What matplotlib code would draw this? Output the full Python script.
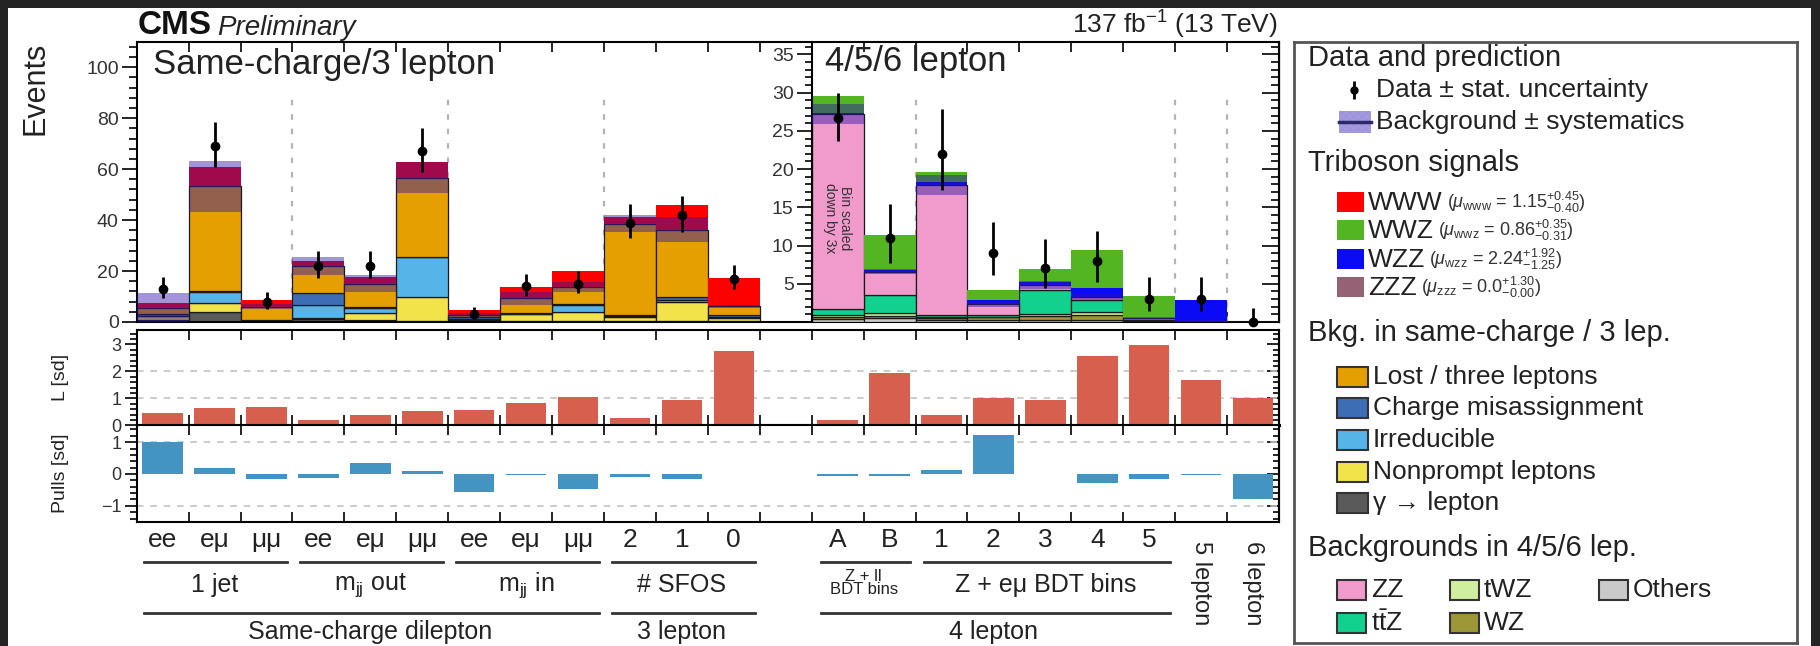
import numpy as np
import matplotlib
matplotlib.use("Agg")
import matplotlib.pyplot as plt
from matplotlib.patches import Rectangle
from matplotlib.transforms import blended_transform_factory
from matplotlib.ticker import MultipleLocator

plt.rcParams["font.family"] = ["Liberation Sans", "DejaVu Sans"]
plt.rcParams["mathtext.fontset"] = "custom"
plt.rcParams["mathtext.rm"] = "Liberation Sans"
plt.rcParams["mathtext.it"] = "Liberation Sans:italic"
plt.rcParams["mathtext.bf"] = "Liberation Sans:bold"
plt.rcParams["hatch.linewidth"] = 0.8

# ---- same-charge / 3 lepton bins (left scale) ----
sc_x = np.arange(12)
gamma_l     = [0.8, 4.0, 0.3, 1.0, 0.8, 0.3, 0.6, 0.3, 0.3, 0.5, 0.3, 0.3]
nonprompt_l = [1.5, 3.3, 0.3, 0.5, 2.6, 9.6, 0.3, 2.7, 3.7, 1.6, 7.7, 1.1]
irred_l     = [0.2, 4.6, 0.2, 5.2, 2.0, 15.7, 0.3, 0.3, 2.7, 0.2, 0.6, 0.7]
chmis_l     = [0.6, 0.3, 0.0, 4.5, 0.6, 0.0, 0.6, 0.3, 0.3, 0.3, 1.3, 0.6]
lost_l      = [2.3, 41.0, 5.2, 10.8, 9.1, 31.1, 0.8, 5.7, 6.8, 36.0, 26.3, 3.5]
www_l       = [1.9, 7.6, 2.6, 1.8, 2.7, 6.1, 2.0, 4.3, 6.3, 2.7, 9.6, 10.9]
syst_l      = [5.8, 10.0, 1.0, 3.6, 3.5, 5.9, 0.9, 2.6, 1.9, 3.2, 5.0, 0.6]
data_l      = [13, 69, 8, 22, 22, 67, 3, 14, 15, 39, 42, 17]
data_l_up   = [4.7, 9.3, 3.9, 5.8, 5.8, 9.2, 2.9, 4.9, 5.0, 7.3, 7.5, 5.2]
data_l_dn   = [3.6, 8.3, 2.8, 4.7, 4.7, 8.2, 1.6, 3.7, 3.8, 6.2, 6.5, 4.1]

# ---- 4/5/6 lepton bins (right scale, bin 12 is a spacer) ----
ml_x = np.arange(13, 22)
others_r = [0.4, 0.5, 0.3, 0.3, 0.3, 0.3, 0.1, 0.05, 0.0]
wz_r     = [0.3, 0.3, 0.2, 0.3, 0.5, 0.6, 0.1, 0.0, 0.0]
twz_r    = [0.2, 0.4, 0.1, 0.1, 0.3, 0.4, 0.0, 0.0, 0.0]
ttz_r    = [0.8, 2.3, 0.3, 0.2, 3.1, 1.6, 0.0, 0.0, 0.0]
zz_r     = [25.5, 3.1, 17.0, 1.5, 0.6, 0.4, 0.3, 0.05, 0.0]
wzz_r    = [0.1, 0.2, 0.4, 0.5, 0.4, 1.1, 0.0, 2.8, 0.0]
wwz_r    = [2.2, 4.6, 1.3, 1.3, 1.7, 5.0, 2.9, 0.0, 0.0]
syst_r   = [1.3, 0.3, 1.3, 0.4, 0.5, 0.4, 0.2, 0.1, 0.0]
data_r    = [26.7, 11, 22, 9, 7, 8, 3, 3, 0]
data_r_up = [3.3, 4.4, 5.8, 4.1, 3.8, 3.9, 2.9, 2.9, 1.8]
data_r_dn = [3.0, 3.3, 4.7, 2.9, 2.6, 2.8, 1.6, 1.6, 0.0]

# ---- likelihood scan and pulls, all bins except the spacer ----
ratio_x = list(range(12)) + list(range(13, 22))
lik_sd  = [0.47, 0.63, 0.69, 0.20, 0.38, 0.53, 0.57, 0.84, 1.04, 0.28, 0.93, 2.76,
           0.20, 1.93, 0.38, 1.00, 0.94, 2.57, 2.96, 1.68, 1.00]
pull_sd = [1.02, 0.18, -0.17, -0.14, 0.34, 0.10, -0.56, -0.04, -0.48, -0.08, -0.16, -0.01,
           -0.06, -0.07, 0.13, 1.23, 0.01, -0.29, -0.17, -0.02, -0.80]

# ---- bin labels ----
sc_labels = ["ee", "eμ", "μμ"] * 3 + ["2", "1", "0"]
ml_labels = ["A", "B", "1", "2", "3", "4", "5"]
sc_groups = ["1 jet", r"m$_{\rm jj}$ out", r"m$_{\rm jj}$ in", "# SFOS"]

signals = ["WWW", "WWZ", "WZZ", "ZZZ"]
mu_val = ["1.15", "0.86", "2.24", "0.0"]
mu_up = ["+0.45", "+0.35", "+1.92", "+1.30"]
mu_dn = ["-0.40", "-0.31", "-1.25", "-0.00"]

c_gamma, c_np, c_irr, c_chm, c_lost = "#5a5a5a", "#F2E34A", "#56B4E9", "#3D6DB4", "#E69F00"
c_www, c_wwz, c_wzz, c_zzz = "#FF0000", "#53B521", "#0A0AF5", "#946274"
c_zz, c_ttz, c_twz, c_wz, c_oth = "#F09BCB", "#12D08E", "#CFEE9E", "#9E9738", "#CACACA"
band_col = (45 / 255, 20 / 255, 170 / 255, 0.45)
sep_kw = dict(colors="#b4b4b4", linewidth=1.6, linestyles=(0, (2.5, 4)), zorder=1)
ink = "#222222"

W, H = 1820, 646
fig = plt.figure(figsize=(W / 100, H / 100), dpi=100, facecolor="#242424")
fig.add_artist(Rectangle((8 / W, 0), (1811 - 8) / W, 638 / H, transform=fig.transFigure,
                         facecolor="white", edgecolor="none", zorder=-10))


def fy(ypx):
    return 1 - ypx / H


x0, x1 = 136.7, 1279.0
ax_top = fig.add_axes([x0 / W, fy(322), (x1 - x0) / W, (322 - 41.7) / H])
ax_r = fig.add_axes([811.7 / W, fy(322), (x1 - 811.7) / W, (322 - 41.7) / H])
ax_L = fig.add_axes([x0 / W, fy(425.3), (x1 - x0) / W, (425.3 - 330) / H])
ax_P = fig.add_axes([x0 / W, fy(521.7), (x1 - x0) / W, (521.7 - 425.3) / H])
ax_r.patch.set_alpha(0)


def draw_stack(ax, x, layers, colors, edged):
    bottom = np.zeros(len(x))
    for vals, col in zip(layers, colors):
        vals = np.asarray(vals, float)
        ax.bar(x + 0.5, vals, width=1.0, bottom=bottom, color=col,
               edgecolor="#1a1a1a" if edged else "none",
               linewidth=0.9 if edged else 0, zorder=2)
        bottom = bottom + vals
    return bottom


def draw_band(ax, x, centre, half):
    half = np.asarray(half, float)
    lo = np.clip(centre - half, 0, None)
    ax.bar(x + 0.5, centre + half - lo, width=1.0, bottom=lo, color=band_col,
           linewidth=0, zorder=3)


# left part: backgrounds, uncertainty band, WWW on top
bkg_l = draw_stack(ax_top, sc_x, [gamma_l, nonprompt_l, irred_l, chmis_l, lost_l],
                   [c_gamma, c_np, c_irr, c_chm, c_lost], True)
draw_stack(ax_top, sc_x, [list(bkg_l), www_l], ["none", c_www], False)
draw_band(ax_top, sc_x, bkg_l, syst_l)
ax_top.errorbar(sc_x + 0.5, data_l, yerr=[data_l_dn, data_l_up], fmt="o", color="k",
                ms=6, elinewidth=2, capsize=0, zorder=5)
ax_top.vlines([3, 6, 9], 0, 90, **sep_kw)

# right part
bkg_r = draw_stack(ax_r, ml_x, [others_r, wz_r, twz_r, ttz_r, zz_r],
                   [c_oth, c_wz, c_twz, c_ttz, c_zz], True)
draw_stack(ax_r, ml_x, [list(bkg_r), wzz_r, wwz_r], ["none", c_wzz, c_wwz], False)
draw_band(ax_r, ml_x, bkg_r, syst_r)
ax_r.errorbar(ml_x + 0.5, data_r, yerr=[data_r_dn, data_r_up], fmt="o", color="k",
              ms=6, elinewidth=2, capsize=0, zorder=5, clip_on=False)
ax_r.vlines([15, 20, 21], 0, 30, **sep_kw)
ax_r.text(13.5, 13.6, "Bin scaled\ndown by 3x", rotation=270, ha="center", va="center",
          fontsize=10, color="#333333", linespacing=1.1, zorder=4)

ax_top.set_xlim(0, 22)
ax_top.set_ylim(0, 110)
ax_r.set_xlim(13, 22)
ax_r.set_ylim(0, 110 / 3)

ax_top.text(0.0143, 0.917, "Same-charge/3 lepton", transform=ax_top.transAxes,
            fontsize=25, va="center", color=ink)
ax_r.text(0.0285, 0.928, "4/5/6 lepton", transform=ax_r.transAxes,
          fontsize=25, va="center", color=ink)

# axis cosmetics
for ax in (ax_top, ax_L, ax_P):
    ax.set_xlim(0, 22)
    ax.set_xticks(range(1, 22))
    ax.tick_params(axis="x", direction="in", top=True, bottom=True, length=7, width=1.2,
                   labelbottom=False)
    for sp in ax.spines.values():
        sp.set_linewidth(1.5)

ax_top.set_yticks(range(0, 101, 20))
ax_top.yaxis.set_minor_locator(MultipleLocator(4))
ax_top.tick_params(axis="y", which="both", direction="out", right=False, labelsize=14,
                   pad=2, width=1.2, labelcolor="#333333")
ax_top.tick_params(axis="y", which="major", length=11)
ax_top.tick_params(axis="y", which="minor", length=5.5)

ax_r.set_xticks([])
ax_r.spines["top"].set_visible(False)
ax_r.spines["bottom"].set_visible(False)
ax_r.spines["left"].set_linewidth(1.5)
ax_r.set_yticks(range(5, 36, 5))
ax_r.yaxis.set_minor_locator(MultipleLocator(1))
ax_r.tick_params(axis="y", which="both", direction="out", labelsize=14, pad=2, width=1.2,
                 labelcolor="#333333")
ax_r.tick_params(axis="y", which="major", length=11)
ax_r.tick_params(axis="y", which="minor", length=5)


def inner_right(ax, major, minor, lmaj):
    sec = ax.secondary_yaxis("right")
    sec.set_yticks(major)
    sec.set_yticklabels([])
    sec.yaxis.set_minor_locator(MultipleLocator(minor))
    sec.tick_params(which="both", direction="in", width=1.2)
    sec.tick_params(which="major", length=lmaj)
    sec.tick_params(which="minor", length=lmaj / 2)
    sec.spines["right"].set_linewidth(1.5)


inner_right(ax_r, range(0, 36, 5), 1, 12)

# likelihood panel
ax_L.bar(np.array(ratio_x) + 0.5, lik_sd, width=0.78, color="#D6604D", zorder=3)
ax_L.set_ylim(0, 3.53)
ax_L.hlines([1, 2], 0, 22, colors="#c4c4c4", linewidth=1.2, linestyles=(0, (4, 4)), zorder=1)
ax_L.set_yticks([0, 1, 2, 3])
ax_L.set_ylabel("L [sd]", fontsize=14, color=ink)
ax_L.yaxis.set_label_coords(-0.059, 0.5)
ax_L.spines["bottom"].set_linewidth(2.2)

# pulls panel
ax_P.bar(np.array(ratio_x) + 0.5, pull_sd, width=0.78, color="#4393C3", zorder=3)
ax_P.set_ylim(-1.5, 1.53)
ax_P.hlines([-1, 1], 0, 22, colors="#c4c4c4", linewidth=1.2, linestyles=(0, (4, 4)), zorder=1)
ax_P.set_yticks([-1, 0, 1])
ax_P.set_ylabel("Pulls [sd]", fontsize=14, color=ink)
ax_P.yaxis.set_label_coords(-0.059, 0.5)

for ax, rng in ((ax_L, [0, 1, 2, 3]), (ax_P, [-1, 0, 1])):
    ax.yaxis.set_minor_locator(MultipleLocator(0.2))
    ax.tick_params(axis="y", which="both", direction="out", right=False, labelsize=13,
                   pad=2, width=1.2, labelcolor="#333333")
    ax.tick_params(axis="y", which="major", length=9)
    ax.tick_params(axis="y", which="minor", length=5)
    inner_right(ax, rng, 0.2, 9)

# header texts
t_cms = fig.text(137.7 / W, fy(34), "CMS", fontsize=24, fontweight="bold", color="#111111")
fig.add_artist(matplotlib.text.Annotation(
    "Preliminary", xy=(1, 0), xycoords=t_cms, xytext=(4, 0), textcoords="offset points",
    fontsize=20, style="italic", color=ink, va="bottom"))
fig.text(1278 / W, fy(34), r"137 fb$^{-1}$ (13 TeV)", fontsize=19, ha="right", color=ink)
fig.text(36 / W, fy(42), "Events", rotation=90, ha="center", va="top", fontsize=22,
         color=ink)

# bin labels under the pulls panel
tr = blended_transform_factory(ax_P.transData, fig.transFigure)
lab_kw = dict(transform=tr, ha="center", va="center", color=ink, clip_on=False)
line_kw = dict(transform=tr, color="#333333", lw=2, clip_on=False)

for xi, lab in zip(sc_x, sc_labels):
    ax_P.text(xi + 0.5, fy(540), lab, fontsize=19, **lab_kw)
for xi, lab in zip(ml_x[:7], ml_labels):
    ax_P.text(xi + 0.5, fy(540), lab, fontsize=19, **lab_kw)
for xi, lab in zip(ml_x[7:], ["5 lepton", "6 lepton"]):
    ax_P.text(xi + 0.5, fy(583), lab, fontsize=17, rotation=270, **lab_kw)

for k, grp in enumerate(sc_groups):
    ax_P.plot([3 * k + 0.15, 3 * k + 2.9], [fy(561.7)] * 2, **line_kw)
    ax_P.text(3 * k + 1.5, fy(585), grp, fontsize=18, **lab_kw)
ax_P.plot([13.18, 14.9], [fy(561.7)] * 2, **line_kw)
ax_P.plot([15.16, 19.9], [fy(561.7)] * 2, **line_kw)
ax_P.text(14.0, fy(583), "Z + ll\nBDT bins", fontsize=12, linespacing=0.9, **lab_kw)
ax_P.text(17.5, fy(585), "Z + eμ BDT bins", fontsize=18, **lab_kw)

ax_P.plot([0.15, 8.9], [fy(613)] * 2, **line_kw)
ax_P.plot([9.15, 11.9], [fy(613)] * 2, **line_kw)
ax_P.plot([13.18, 19.9], [fy(613)] * 2, **line_kw)
ax_P.text(4.5, fy(631.7), "Same-charge dilepton", fontsize=18, **lab_kw)
ax_P.text(10.5, fy(631.7), "3 lepton", fontsize=18, **lab_kw)
ax_P.text(16.5, fy(631.7), "4 lepton", fontsize=18, **lab_kw)

# legend box
ax_leg = fig.add_axes([1293.8 / W, fy(643), (1797 - 1293.8) / W, (643 - 41.7) / H])
ax_leg.set_xlim(0, 503.2)
ax_leg.set_ylim(601.3, 0)
ax_leg.set_xticks([])
ax_leg.set_yticks([])
for sp in ax_leg.spines.values():
    sp.set_color("#555555")
    sp.set_linewidth(2)

hdr_kw = dict(fontsize=21, va="center", color=ink)
item_fs = 19
ax_leg.text(13.7, 16.6, "Data and prediction", **hdr_kw)
ax_leg.errorbar([60], [48.3], yerr=[[9], [9]], fmt="o", color="k", ms=5, elinewidth=2)
ax_leg.text(82.6, 48.3, "Data ± stat. uncertainty", fontsize=item_fs, va="center", color=ink)
ax_leg.add_patch(Rectangle((44.7, 69), 32.5, 22, facecolor=band_col, edgecolor="#a49ce6",
                           hatch="xxxx", linewidth=0))
ax_leg.plot([44.7, 77.2], [80, 80], color="#2a2a6a", lw=2.5)
ax_leg.text(82.6, 80, "Background ± systematics", fontsize=item_fs, va="center", color=ink)

ax_leg.text(13.7, 121.6, "Triboson signals", **hdr_kw)
for k, (name, col) in enumerate(zip(signals, [c_www, c_wwz, c_wzz, c_zzz])):
    yc = 160 + 28.4 * k
    ax_leg.add_patch(Rectangle((43, yc - 10), 27, 20, facecolor=col, edgecolor="none"))
    t = ax_leg.text(74, yc + 8, name, fontsize=item_fs, va="baseline", color=ink)
    ax_leg.annotate(rf"($\mu_{{\rm {name.lower()}}}$ = {mu_val[k]}$^{{{mu_up[k]}}}_{{{mu_dn[k]}}}$)",
                    xy=(1, 0), xycoords=t, xytext=(3, 0), textcoords="offset points",
                    fontsize=13, va="bottom", color="#333333")

ax_leg.text(13.7, 291.6, "Bkg. in same-charge / 3 lep.", **hdr_kw)
sc_leg = [("Lost / three leptons", c_lost), ("Charge misassignment", c_chm),
          ("Irreducible", c_irr), ("Nonprompt leptons", c_np), ("γ → lepton", c_gamma)]
for k, (name, col) in enumerate(sc_leg):
    yc = 335 + 31.65 * k
    ax_leg.add_patch(Rectangle((43, yc - 10), 31, 20, facecolor=col, edgecolor="#333333",
                               linewidth=1.5))
    ax_leg.text(79, yc, name, fontsize=item_fs, va="center", color=ink)

ax_leg.text(13.7, 506.6, "Backgrounds in 4/5/6 lep.", **hdr_kw)
ml_leg = [("ZZ", c_zz, 43, 548.3), ("tWZ", c_twz, 156, 548.3), ("Others", c_oth, 305, 548.3),
          (r"t$\bar{\rm t}$Z", c_ttz, 43, 581.6), ("WZ", c_wz, 156, 581.6)]
for name, col, xs, yc in ml_leg:
    ax_leg.add_patch(Rectangle((xs, yc - 10), 29, 20, facecolor=col, edgecolor="#333333",
                               linewidth=1.5))
    ax_leg.text(xs + 34, yc, name, fontsize=item_fs, va="center", color=ink)

fig.savefig("out.png", dpi=100, facecolor=fig.get_facecolor())
